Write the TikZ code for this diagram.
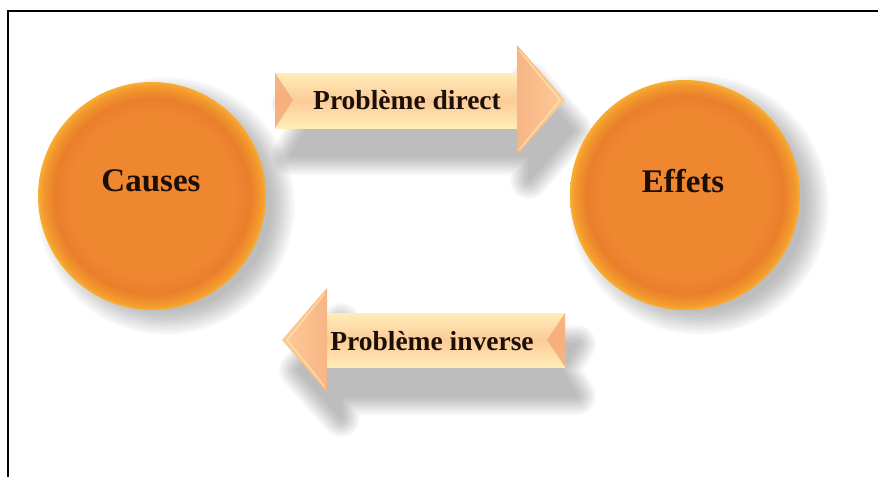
\documentclass[tikz,border=0pt]{standalone}
\usepackage{fontspec}
\setmainfont{Liberation Serif}

% palette
\definecolor{orcore}{HTML}{EF8630}
\definecolor{ordark}{HTML}{EA7F2B}
\definecolor{orrim}{HTML}{F39A2D}
\definecolor{oredge}{HTML}{F8AE33}
\definecolor{argpale}{HTML}{FFEDB8}
\definecolor{argmid}{HTML}{FCCB98}
\definecolor{arghead}{HTML}{F8B584}
\definecolor{argnotch}{HTML}{F5A877}
\definecolor{inkbrown}{HTML}{1C0F08}
\definecolor{shadowgray}{HTML}{7A7A7A}

% orange ball: flat core, faint darker ring, light rim
\pgfdeclareradialshading{ballshade}{\pgfpoint{0bp}{0bp}}{%
  color(0bp)=(orcore); color(18bp)=(orcore); color(21.5bp)=(ordark);
  color(24bp)=(orrim); color(25bp)=(oredge); color(50bp)=(oredge)}

% soft shadow: #1 path, #2 blur radius (pt), #3 opacity of each layer
\newcommand\softshade[3]{%
  \foreach \k in {1,...,24}{%
    \begin{scope}[transparency group, opacity=#3]
      \filldraw[shadowgray, line join=round, line width={2*#2*(1-\k/24)}] #1;
    \end{scope}}}

\tikzset{
  ball/.style={circle, minimum size=#1, inner sep=0pt, shade, shading=ballshade},
  balltext/.style={text=inkbrown, font=\bfseries\fontsize{33}{33}\selectfont, inner sep=0pt},
  argtext/.style={text=inkbrown, font=\bfseries\fontsize{27.5}{27.5}\selectfont, inner sep=0pt},
  argbody/.style={top color=argpale, bottom color=argpale, middle color=argmid},
  argbevel/.style={argpale, line width=1.5pt, line join=round, opacity=0.6},
  framerule/.style={line width=2.6pt, black},
}

\begin{document}
\begin{tikzpicture}[x=1pt, y=-1pt]
\useasboundingbox (0,0) rectangle (878,477);
\fill[white] (0,0) rectangle (878,477);

% frame (top and left edges)
\draw[framerule] (878,11) -- (8,11) -- (8,477);

% --- soft shadows
\softshade{(166,206) circle (104)}{26}{0.022}
\softshade{(699,205) circle (105)}{26}{0.022}
\softshade{(290,104) -- (529,104) -- (529,80) -- (573,130) -- (529,180)
  -- (529,156) -- (290,156) -- (306,130) -- cycle}{20}{0.022}
\softshade{(577,344) -- (341,344) -- (341,322) -- (298,370) -- (341,418)
  -- (341,396) -- (577,396) -- (561,370) -- cycle}{20}{0.022}

% --- balls
\node[ball=228pt] (causes) at (152,196) {};
\node[ball=230pt] (effets) at (685,195) {};
\node[balltext] (causeslbl) at (151,181) {Causes};
\node[balltext] (effetslbl) at (683,181) {Effets};

% --- arrow "direct", pointing right
\shade[argbody] (275,73) rectangle (519,128);
\shade[left color=arghead, right color=argmid] (517,45) -- (565,100) -- (517,155) -- cycle;
\draw[argbevel] (519,50) -- (560,100) -- (519,150);
\fill[argnotch, opacity=0.8] (275,73) -- (293,100) -- (275,128) -- cycle;
\node[argtext] (direct) at (407,100) {Problème direct};

% --- arrow "inverse", pointing left
\shade[argbody] (325,313) rectangle (565,367);
\shade[right color=arghead, left color=argmid] (327,288) -- (282,340) -- (327,392) -- cycle;
\draw[argbevel] (325,293) -- (287,340) -- (325,387);
\fill[argnotch, opacity=0.8] (565,313) -- (547,340) -- (565,367) -- cycle;
\node[argtext] (inverse) at (432,341) {Problème inverse};
\end{tikzpicture}
\end{document}
